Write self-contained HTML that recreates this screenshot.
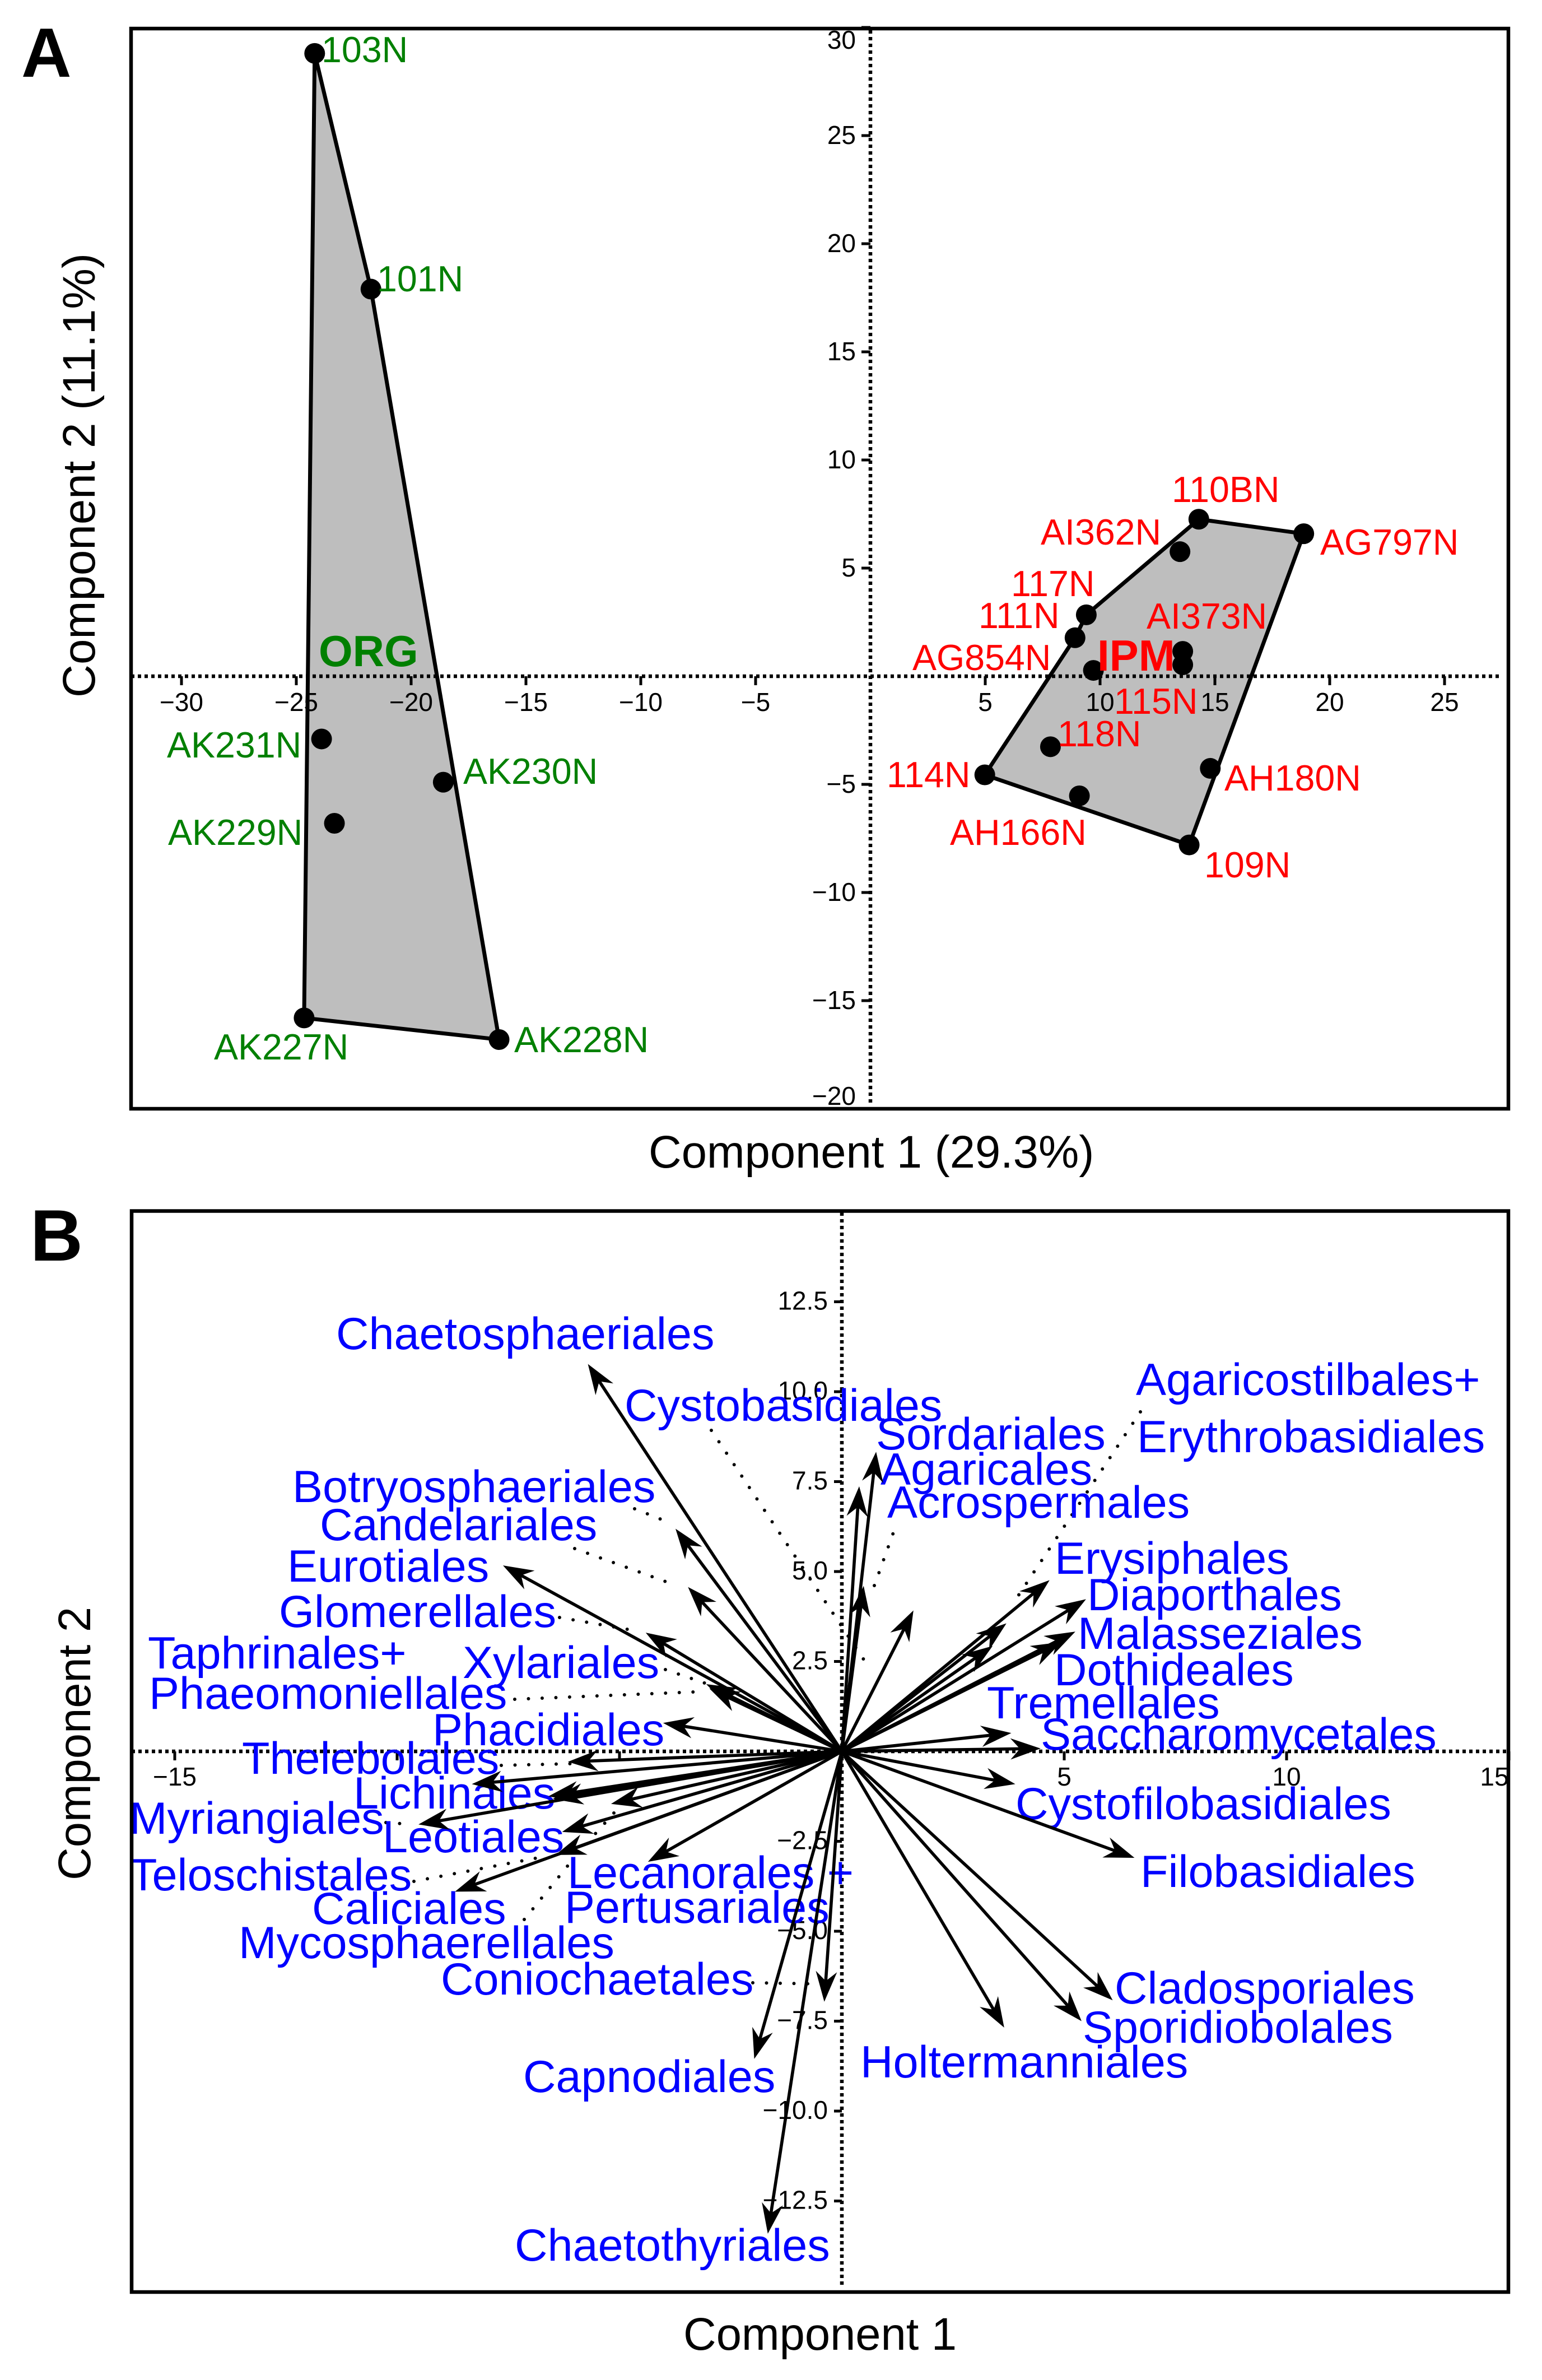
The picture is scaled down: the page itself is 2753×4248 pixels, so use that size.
<!DOCTYPE html>
<html lang="en">
<head>
<meta charset="utf-8">
<title>Ordination of fungal communities</title>
<style>
html,body{margin:0;padding:0;background:#fff}
svg{display:block}
text{font-family:"Liberation Sans",Arial,sans-serif}
.frame{fill:none;stroke:#000;stroke-width:6.5}
.title{font-size:81.3px;fill:#000}
.panel{font-size:124px;font-weight:700;fill:#000}
.org{font-size:64.5px;fill:#008000}
.ipm{font-size:64.5px;fill:#ff0000}
.order{font-size:81px;fill:#0000ff}
.leader{stroke:#000;stroke-width:6;stroke-linecap:round;stroke-dasharray:0 24.5;fill:none}
.tick-label{font-size:46px;fill:#000}
</style>
</head>
<body>
<svg id="chart" xmlns="http://www.w3.org/2000/svg" width="2753" height="4248" viewBox="0 0 2753 4248">
  <rect width="2753" height="4248" fill="#fff"/>

  <text class="panel" x="38" y="137">A</text>
  <text class="panel" x="54" y="2250" style="font-size:130px">B</text>

  <g id="panel-a-under"></g>
  <g id="panel-a-axes"></g>
  <g id="panel-a-points"></g>

  <g>
    <text class="org" x="574" y="111">103N</text>
    <text class="org" x="673" y="520">101N</text>
    <text class="org" x="298" y="1352">AK231N</text>
    <text class="org" x="827" y="1399">AK230N</text>
    <text class="org" x="300" y="1508">AK229N</text>
    <text class="org" x="382" y="1891">AK227N</text>
    <text class="org" x="918" y="1878">AK228N</text>
    <text x="569" y="1189" style="font-size:78px;font-weight:700;fill:#008000">ORG</text>
    <text class="ipm" x="2092" y="896">110BN</text>
    <text class="ipm" x="1858" y="972">AI362N</text>
    <text class="ipm" x="2357" y="990">AG797N</text>
    <text class="ipm" x="1805" y="1064">117N</text>
    <text class="ipm" x="1747" y="1121">111N</text>
    <text class="ipm" x="2047" y="1122">AI373N</text>
    <text class="ipm" x="1629" y="1196">AG854N</text>
    <text class="ipm" x="1989" y="1274">115N</text>
    <text class="ipm" x="1888" y="1332">118N</text>
    <text class="ipm" x="1583" y="1405">114N</text>
    <text class="ipm" x="2186" y="1411">AH180N</text>
    <text class="ipm" x="1696" y="1508">AH166N</text>
    <text class="ipm" x="2150" y="1566">109N</text>
    <text x="1959" y="1197" style="font-size:78px;font-weight:700;fill:#ff0000">IPM</text>
  </g>

  <rect class="frame" x="234" y="51" width="2459" height="1928"/>
  <text class="title" x="1158" y="2084">Component 1 (29.3%)</text>
  <text class="title" transform="translate(169 1245) rotate(-90)" x="0" y="0" style="font-size:81.7px">Component 2 (11.1%)</text>

  <g id="panel-b-axes"></g>

  <g>
    <line class="leader" x1="1270" y1="2553" x2="1554" y2="2980"/>
    <line class="leader" x1="1133" y1="2693" x2="1201" y2="2720"/>
    <line class="leader" x1="1026" y1="2764" x2="1208" y2="2830"/>
    <line class="leader" x1="999" y1="2887" x2="1143" y2="2912"/>
    <line class="leader" x1="1188" y1="2980" x2="1258" y2="3004"/>
    <line class="leader" x1="919" y1="3033" x2="1261" y2="3019"/>
    <line class="leader" x1="895" y1="3151" x2="1018" y2="3148"/>
    <line class="leader" x1="689" y1="3253" x2="731" y2="3256"/>
    <line class="leader" x1="1096" y1="3236" x2="1061" y2="3275"/>
    <line class="leader" x1="739" y1="3358" x2="971" y2="3314"/>
    <line class="leader" x1="936" y1="3426" x2="1017" y2="3326"/>
    <line class="leader" x1="1344" y1="3539" x2="1460" y2="3541"/>
    <line class="leader" x1="1561" y1="2830" x2="1602" y2="2716"/>
    <line class="leader" x1="2036" y1="2520" x2="1806" y2="2866"/>
  </g>

  <g>
    <text class="order" x="600" y="2408">Chaetosphaeriales</text>
    <text class="order" x="1115" y="2536">Cystobasidiales</text>
    <text class="order" x="522" y="2681">Botryosphaeriales</text>
    <text class="order" x="571" y="2749">Candelariales</text>
    <text class="order" x="513" y="2823">Eurotiales</text>
    <text class="order" x="498" y="2904">Glomerellales</text>
    <text class="order" x="264" y="2978">Taphrinales+</text>
    <text class="order" x="826" y="2995">Xylariales</text>
    <text class="order" x="266" y="3050">Phaeomoniellales</text>
    <text class="order" x="772" y="3115">Phacidiales</text>
    <text class="order" x="432" y="3166">Thelebolales</text>
    <text class="order" x="631" y="3228">Lichinales</text>
    <text class="order" x="231" y="3273">Myriangiales</text>
    <text class="order" x="683" y="3306">Leotiales</text>
    <text class="order" x="231" y="3374">Teloschistales</text>
    <text class="order" x="1013" y="3370">Lecanorales +</text>
    <text class="order" x="1008" y="3432">Pertusariales</text>
    <text class="order" x="557" y="3434">Caliciales</text>
    <text class="order" x="426" y="3495">Mycosphaerellales</text>
    <text class="order" x="787" y="3560">Coniochaetales</text>
    <text class="order" x="934" y="3734">Capnodiales</text>
    <text class="order" x="919" y="4035">Chaetothyriales</text>
    <text class="order" x="2028" y="2490">Agaricostilbales+</text>
    <text class="order" x="2030" y="2592">Erythrobasidiales</text>
    <text class="order" x="1564" y="2587">Sordariales</text>
    <text class="order" x="1572" y="2650">Agaricales</text>
    <text class="order" x="1584" y="2709">Acrospermales</text>
    <text class="order" x="1883" y="2809">Erysiphales</text>
    <text class="order" x="1941" y="2874">Diaporthales</text>
    <text class="order" x="1924" y="2943">Malasseziales</text>
    <text class="order" x="1882" y="3008">Dothideales</text>
    <text class="order" x="1762" y="3067">Tremellales</text>
    <text class="order" x="1858" y="3123">Saccharomycetales</text>
    <text class="order" x="1813" y="3247">Cystofilobasidiales</text>
    <text class="order" x="2036" y="3368">Filobasidiales</text>
    <text class="order" x="1990" y="3576">Cladosporiales</text>
    <text class="order" x="1933" y="3646">Sporidiobolales</text>
    <text class="order" x="1536" y="3708">Holtermanniales</text>
  </g>

  <g id="panel-b-arrows"></g>

  <rect class="frame" x="235" y="2161.5" width="2458" height="1929.5"/>
  <text class="title" x="1220" y="4194">Component 1</text>
  <text class="title" transform="translate(161 3356) rotate(-90)" x="0" y="0">Component 2</text>
</svg>

<script>
// Panel A data: sample scores on components 1 and 2
const sampleNames = ['103N','101N','AK231N','AK230N','AK229N','AK227N','AK228N','110BN','AG797N','AI362N','117N','111N','AG854N','AI373N','115N','118N','114N','AH166N','AH180N','109N'];
const sampleComp1 = [-24.2,-21.75,-23.9,-18.6,-23.34,-24.66,-16.17,14.3,18.87,13.48,9.4,8.91,9.71,13.6,13.6,7.84,4.98,9.1,14.8,13.88];
const sampleComp2 = [28.8,17.9,-2.9,-4.9,-6.8,-15.8,-16.8,7.26,6.59,5.76,2.84,1.78,0.27,1.15,0.53,-3.26,-4.56,-5.53,-4.26,-7.8];
const orgHull = ['103N','101N','AK228N','AK227N'];
const ipmHull = ['114N','111N','117N','110BN','AG797N','109N'];
const xTicksA = [-30,-25,-20,-15,-10,-5,5,10,15,20,25];
const yTicksA = [30,25,20,15,10,5,-5,-10,-15,-20];

// Panel B data: loading vectors on components 1 and 2
const arrowNames = ['Chaetosphaeriales','Botryosphaeriales','Candelariales','Eurotiales','Glomerellales','Xylariales','Taphrinales-Phaeomoniellales','Phacidiales','Thelebolales','Lichinales','Unassigned-left-1','Myriangiales','Unassigned-left-2','Unassigned-left-3','Leotiales','Teloschistales','Caliciales','Lecanorales-Pertusariales','Capnodiales','Chaetothyriales','Coniochaetales','Holtermanniales','Sporidiobolales','Cladosporiales','Filobasidiales','Cystofilobasidiales','Saccharomycetales','Tremellales','Malasseziales','Dothideales','Diaporthales','Agaricostilbales-Erythrobasidiales','Erysiphales','Unassigned-right-1','Cystobasidiales','Sordariales','Agaricales','Acrospermales'];
const arrowComp1 = [-5.71,-3.74,-3.46,-7.62,-4.41,-3.05,-2.98,-4.02,-6.16,-8.32,-6.5,-9.52,-6.6,-5.19,-6.29,-6.44,-8.7,-4.36,-1.97,-1.665,-0.395,3.65,5.39,6.09,6.58,3.9,4.47,3.81,5.25,4.94,5.49,4.67,3.7,3.39,1.61,0.77,0.39,0.49];
const arrowComp2 = [10.77,6.19,4.57,5.17,3.3,1.87,1.75,0.79,-0.29,-0.91,-1.32,-2.03,-1.25,-1.46,-2.24,-2.88,-3.9,-3.07,-8.55,-13.41,-6.96,-7.68,-7.5,-6.92,-2.96,-0.91,0.08,0.51,3.33,3.04,4.23,4.76,3.56,2.93,3.92,8.33,7.37,4.6];
const xTicksB = [-15,-10,-5,5,10,15];
const xTickLabelsB = ['−15','','','5','10','15'];
const yTicksB = [12.5,10,7.5,5,2.5,-2.5,-5,-7.5,-10,-12.5];

const SVG_NS = 'http://www.w3.org/2000/svg';
const sxA = v => 1554 + 41 * v;
const syA = v => 1207 - 38.6 * v;
const sxB = v => 1503 + 79.4 * v;
const syB = v => 3126 - 64.2 * v;
const fmt = (v, d) => (v < 0 ? '−' : '') + Math.abs(v).toFixed(d);

function make(tag, attrs, parent) {
  const el = document.createElementNS(SVG_NS, tag);
  for (const k in attrs) el.setAttribute(k, attrs[k]);
  parent.appendChild(el);
  return el;
}

const hullsA = document.getElementById('panel-a-under');
const axesA = document.getElementById('panel-a-axes');
const pointsA = document.getElementById('panel-a-points');
const axesB = document.getElementById('panel-b-axes');
const arrowsB = document.getElementById('panel-b-arrows');

function hullPoints(names) {
  return names.map(n => {
    const i = sampleNames.indexOf(n);
    return sxA(sampleComp1[i]) + ',' + syA(sampleComp2[i]);
  }).join(' ');
}

[['org', orgHull], ['ipm', ipmHull]].forEach(h => {
  const poly = make('polygon', {points: hullPoints(h[1]), fill: '#bebebe', stroke: '#000', 'stroke-width': 7, 'stroke-linejoin': 'round'}, hullsA);
  
  
});

function dottedAxis(parent, x1, y1, x2, y2, name) {
  const line = make('line', {x1, y1, x2, y2, stroke: '#000', 'stroke-width': 6.5, 'stroke-dasharray': '6 6'}, parent);
  
  
}

function tickMark(parent, x1, y1, x2, y2, name) {
  const line = make('line', {x1, y1, x2, y2, stroke: '#000', 'stroke-width': 5}, parent);
  
  
}

function tickText(parent, x, y, anchor, content, name) {
  const t = make('text', {x, y, 'text-anchor': anchor, 'class': 'tick-label'}, parent);
  t.textContent = content;
  
  
}

// Panel A axes
dottedAxis(axesA, 234, syA(0), 2682, syA(0), 'panel-a-zero-line-horizontal');
dottedAxis(axesA, sxA(0), 54, sxA(0), 1974, 'panel-a-zero-line-vertical');
xTicksA.forEach(v => {
  tickMark(axesA, sxA(v), syA(0), sxA(v), syA(0) + 16, 'panel-a-x-tick-' + v);
  tickText(axesA, sxA(v), syA(0) + 62, 'middle', fmt(v, 0), 'panel-a-x-tick-label-' + v);
});
yTicksA.forEach(v => {
  tickMark(axesA, sxA(0) - 16, syA(v), sxA(0), syA(v), 'panel-a-y-tick-' + v);
  const base = Math.min(1972, Math.max(87, syA(v) + 15));
  tickText(axesA, sxA(0) - 26, base, 'end', fmt(v, 0), 'panel-a-y-tick-label-' + v);
});

// Panel A points
sampleNames.forEach((n, i) => {
  const c = make('circle', {cx: sxA(sampleComp1[i]), cy: syA(sampleComp2[i]), r: 18.5, fill: '#000'}, pointsA);
  
  
});

// Panel B axes
dottedAxis(axesB, 235, syB(0), 2690, syB(0), 'panel-b-zero-line-horizontal');
dottedAxis(axesB, sxB(0), 2164, sxB(0), 4084, 'panel-b-zero-line-vertical');
xTicksB.forEach((v, i) => {
  tickMark(axesB, sxB(v), syB(0), sxB(v), syB(0) + 16, 'panel-b-x-tick-' + v);
  if (xTickLabelsB[i]) {
    const tx = Math.min(2668, sxB(v));
    tickText(axesB, tx, syB(0) + 61, 'middle', xTickLabelsB[i], 'panel-b-x-tick-label-' + v);
  }
});
yTicksB.forEach(v => {
  tickMark(axesB, sxB(0) - 14, syB(v), sxB(0), syB(v), 'panel-b-y-tick-' + v);
  tickText(axesB, sxB(0) - 25, syB(v) + 14, 'end', fmt(v, 1), 'panel-b-y-tick-label-' + v);
});

// Panel B arrows
arrowNames.forEach((n, i) => {
  const x0 = sxB(0), y0 = syB(0);
  const tx = sxB(arrowComp1[i]), ty = syB(arrowComp2[i]);
  const len = Math.hypot(tx - x0, ty - y0);
  const ux = (x0 - tx) / len, uy = (y0 - ty) / len;
  const px = -uy, py = ux;
  const g = make('g', {}, arrowsB);
  
  
  const shaft = make('line', {x1: x0, y1: y0, x2: tx + ux * 32, y2: ty + uy * 32, stroke: '#000', 'stroke-width': 5.6}, g);
  
  
  const headPts = [
    [tx, ty],
    [tx + ux * 54 + px * 19, ty + uy * 54 + py * 19],
    [tx + ux * 37, ty + uy * 37],
    [tx + ux * 54 - px * 19, ty + uy * 54 - py * 19]
  ].map(p => p.join(',')).join(' ');
  const head = make('polygon', {points: headPts, fill: '#000'}, g);
  
  
});
</script>
</body>
</html>
